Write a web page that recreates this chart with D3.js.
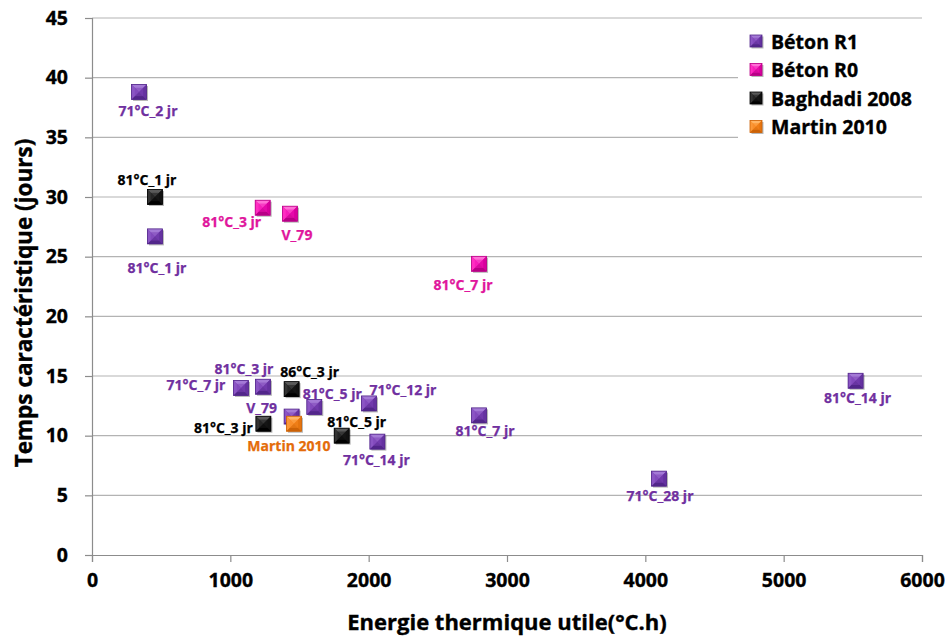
<!DOCTYPE html>
<html><head><meta charset="utf-8">
<script src="https://cdn.jsdelivr.net/npm/d3@7"></script>
<style>
html,body{margin:0;padding:0;background:#fff;}
text{font-family:"Open Sans","Liberation Sans",Arial,sans-serif;font-weight:700;}
</style></head>
<body>
<svg id="chart" width="947" height="636"></svg>
<script>
// ---------- data ----------
const seriesNames = ["Béton R1", "Béton R0", "Baghdadi 2008", "Martin 2010"];

const betonR1X = [340, 455, 1236, 1077, 1443, 1607, 2002, 2063, 2798, 4099, 5520];
const betonR1Y = [38.8, 26.7, 14.1, 14.0, 11.6, 12.4, 12.7, 9.5, 11.7, 6.4, 14.6];
const betonR1Labels = ["71°C_2 jr", "81°C_1 jr", "81°C_3 jr", "71°C_7 jr", "V_79", "81°C_5 jr", "71°C_12 jr", "71°C_14 jr", "81°C_7 jr", "71°C_28 jr", "81°C_14 jr"];

const betonR0X = [1234, 1431, 2798];
const betonR0Y = [29.1, 28.6, 24.4];
const betonR0Labels = ["81°C_3 jr", "V_79", "81°C_7 jr"];

const baghdadiX = [455, 1443, 1239, 1805];
const baghdadiY = [30.0, 13.9, 11.0, 10.0];
const baghdadiLabels = ["81°C_1 jr", "86°C_3 jr", "81°C_3 jr", "81°C_5 jr"];

const martinX = [1460];
const martinY = [11.0];
const martinLabels = ["Martin 2010"];

const xTicks = [0, 1000, 2000, 3000, 4000, 5000, 6000];
const yTicks = [0, 5, 10, 15, 20, 25, 30, 35, 40, 45];

// ---------- layout (label offsets in px, relative to marker centre) ----------
const betonR1LabelOffsets = [[9,19],[2,31],[-19,-18],[-45,-3],[-30,-9],[18,-14],[34,-14],[-1,18],[6,15],[1,17],[2,17]];
const betonR0LabelOffsets = [[-31,14],[7,21],[-16,21]];
const baghdadiLabelOffsets = [[-8,-18],[18,-18],[-40,4],[15,-14]];
const martinLabelOffsets = [[-5,22]];

const styles = [
  {base:"#7b42b6", top:"#a47ad6", left:"#8b55c4", right:"#6532a0", bottom:"#52268a", label:"#7030a0"},
  {base:"#f012b4", top:"#ff6fd6", left:"#ff2ec2", right:"#d8009e", bottom:"#b80086", label:"#e0169c"},
  {base:"#1a1a1a", top:"#5a5a5a", left:"#333333", right:"#111111", bottom:"#000000", label:"#000000"},
  {base:"#f7861f", top:"#ffb565", left:"#fb9838", right:"#e5740f", bottom:"#cc6206", label:"#e46c0a"}
];

const series = [
  {xs: betonR1X, ys: betonR1Y, labels: betonR1Labels, off: betonR1LabelOffsets},
  {xs: betonR0X, ys: betonR0Y, labels: betonR0Labels, off: betonR0LabelOffsets},
  {xs: baghdadiX, ys: baghdadiY, labels: baghdadiLabels, off: baghdadiLabelOffsets},
  {xs: martinX, ys: martinY, labels: martinLabels, off: martinLabelOffsets}
];

// ---------- chart ----------
const svg = d3.select("#chart");
const plotL = 92, plotR = 922, plotT = 18, plotB = 555;
const x = d3.scaleLinear().domain([0, 6000]).range([plotL, plotR]);
const y = d3.scaleLinear().domain([0, 45]).range([plotB, plotT]);

// gridlines
svg.append("g").selectAll("line").data(yTicks.filter(t => t > 0)).join("line")
  .attr("x1", plotL).attr("x2", plotR)
  .attr("y1", d => y(d)).attr("y2", d => y(d))
  .attr("stroke", "#b3b3b3").attr("stroke-width", 1.2);

// axes
const xAxis = d3.axisBottom(x).tickValues(xTicks).tickSize(7).tickPadding(11).tickFormat(d3.format("d"));
const yAxis = d3.axisLeft(y).tickValues(yTicks).tickSize(7).tickPadding(17).tickFormat(d3.format("d"));

const gx = svg.append("g").attr("transform", `translate(0,${plotB})`).call(xAxis);
const gy = svg.append("g").attr("transform", `translate(${plotL},0)`).call(yAxis);
[gx, gy].forEach(g => {
  g.select(".domain").attr("stroke", "#8c8c8c").attr("stroke-width", 1.2);
  g.selectAll(".tick line").attr("stroke", "#8c8c8c").attr("stroke-width", 1.2);
  g.selectAll(".tick text").attr("fill", "#000").style("font-size", "19.5px")
    .attr("stroke", "#000").attr("stroke-width", 0.35)
    .style("font-family", '"Open Sans","Liberation Sans",Arial,sans-serif').style("font-weight", 700);
});

// axis titles
svg.append("text").attr("x", 507).attr("y", 621).attr("text-anchor", "middle")
  .attr("dominant-baseline", "central").attr("stroke", "#000").attr("stroke-width", 0.35)
  .style("font-size", "22px").text("Energie thermique utile(°C.h)");
svg.append("text").attr("transform", "translate(23,303) rotate(-90)").attr("text-anchor", "middle")
  .attr("dominant-baseline", "central").attr("stroke", "#000").attr("stroke-width", 0.35)
  .style("font-size", "22.5px").text("Temps caractéristique (jours)");

// bevelled square marker
function marker(g, s, st) {
  const h = s / 2, i = s * 0.22;
  g.append("rect").attr("x", -h + 1.5).attr("y", -h + 1.5).attr("width", s).attr("height", s)
    .attr("fill", "rgba(0,0,0,0.28)");
  g.append("rect").attr("x", -h).attr("y", -h).attr("width", s).attr("height", s).attr("fill", st.base);
  const faces = [
    [[-h,-h],[h,-h],[0,0]],
    [[-h,-h],[-h,h],[0,0]],
    [[h,-h],[h,h],[0,0]],
    [[-h,h],[h,h],[0,0]]
  ];
  const cols = [st.top, st.left, st.right, st.bottom];
  faces.forEach((f, k) => g.append("path").attr("d", "M" + f.map(p => p.join(",")).join("L") + "Z").attr("fill", cols[k]));
  g.append("rect").attr("x", -h + i).attr("y", -h + i).attr("width", s - 2 * i).attr("height", s - 2 * i)
    .attr("fill", st.base).attr("opacity", 0.55);
  g.append("rect").attr("x", -h).attr("y", -h).attr("width", s).attr("height", s)
    .attr("fill", "none").attr("stroke", st.bottom).attr("stroke-width", 0.8);
}

// points
const markersG = svg.append("g");
series.forEach((se, si) => {
  se.xs.forEach((vx, k) => {
    const g = markersG.append("g").attr("transform", `translate(${x(vx)},${y(se.ys[k])})`);
    marker(g, 15, styles[si]);
  });
});

// data labels
const labelsG = svg.append("g");
series.forEach((se, si) => {
  se.xs.forEach((vx, k) => {
    labelsG.append("text")
      .attr("x", x(vx) + se.off[k][0]).attr("y", y(se.ys[k]) + se.off[k][1])
      .attr("text-anchor", "middle").attr("dominant-baseline", "central")
      .attr("fill", styles[si].label).attr("stroke", styles[si].label).attr("stroke-width", 0.25)
      .style("font-size", "14px")
      .text(se.labels[k]);
  });
});

// legend
const lg = svg.append("g");
lg.append("rect").attr("x", 738).attr("y", 22).attr("width", 200).attr("height", 122).attr("fill", "#fff");
seriesNames.forEach((n, i) => {
  const yy = 41 + i * 28.5;
  const g = lg.append("g").attr("transform", `translate(756,${yy})`);
  marker(g, 12, styles[i]);
  lg.append("text").attr("x", 771).attr("y", yy).attr("dominant-baseline", "central")
    .attr("fill", "#000").attr("stroke", "#000").attr("stroke-width", 0.35)
    .style("font-size", "19.5px").text(n);
});
</script>
</body></html>
